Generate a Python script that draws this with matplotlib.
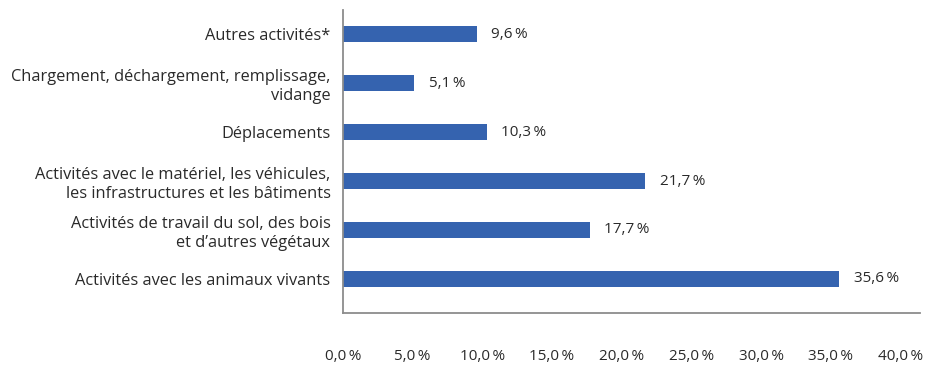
import matplotlib

matplotlib.use('Agg')
import matplotlib.pyplot as plt

plt.rcParams['font.family'] = ['Open Sans', 'DejaVu Sans']

categories = [
    "Autres activités*",
    "Chargement, déchargement, remplissage,\nvidange",
    "Déplacements",
    "Activités avec le matériel, les véhicules,\nles infrastructures et les bâtiments",
    "Activités de travail du sol, des bois\net d\u2019autres végétaux",
    "Activités avec les animaux vivants",
]
values = [9.6, 5.1, 10.3, 21.7, 17.7, 35.6]
ticks = [0, 5, 10, 15, 20, 25, 30, 35, 40]

bar_color = '#3563AF'
text_color = '#2a2a2a'
axis_color = '#8c8c8c'


def fr_pct(v):
    return f"{v:.1f}".replace('.', ',') + "\u2009%"


fig = plt.figure(figsize=(9.26, 3.66), dpi=100)
ax = fig.add_axes([343 / 926, 1 - 313 / 366, (920 - 343) / 926, (313 - 10) / 366])

pos = list(range(len(categories)))
ax.barh(pos, values, height=0.33, color=bar_color, edgecolor='none')
ax.set_ylim(5.7, -0.5)
ax.set_xlim(0, 41.4)

for y, v in zip(pos, values):
    ax.text(v + 1.05, y, fr_pct(v), va='center', ha='left',
            fontsize=11, color=text_color)

ax.set_yticks(pos)
ax.set_yticklabels(categories, fontsize=11.8, color=text_color,
                   multialignment='right', linespacing=1.25)
ax.tick_params(axis='y', length=0, pad=9)

ax.set_xticks(ticks)
ax.set_xticklabels([fr_pct(t) for t in ticks], fontsize=11, color=text_color)
ax.tick_params(axis='x', length=0, pad=26)

for side in ('top', 'right'):
    ax.spines[side].set_visible(False)
for side in ('left', 'bottom'):
    ax.spines[side].set_color(axis_color)
    ax.spines[side].set_linewidth(1.3)

fig.savefig('out.png', dpi=100)
